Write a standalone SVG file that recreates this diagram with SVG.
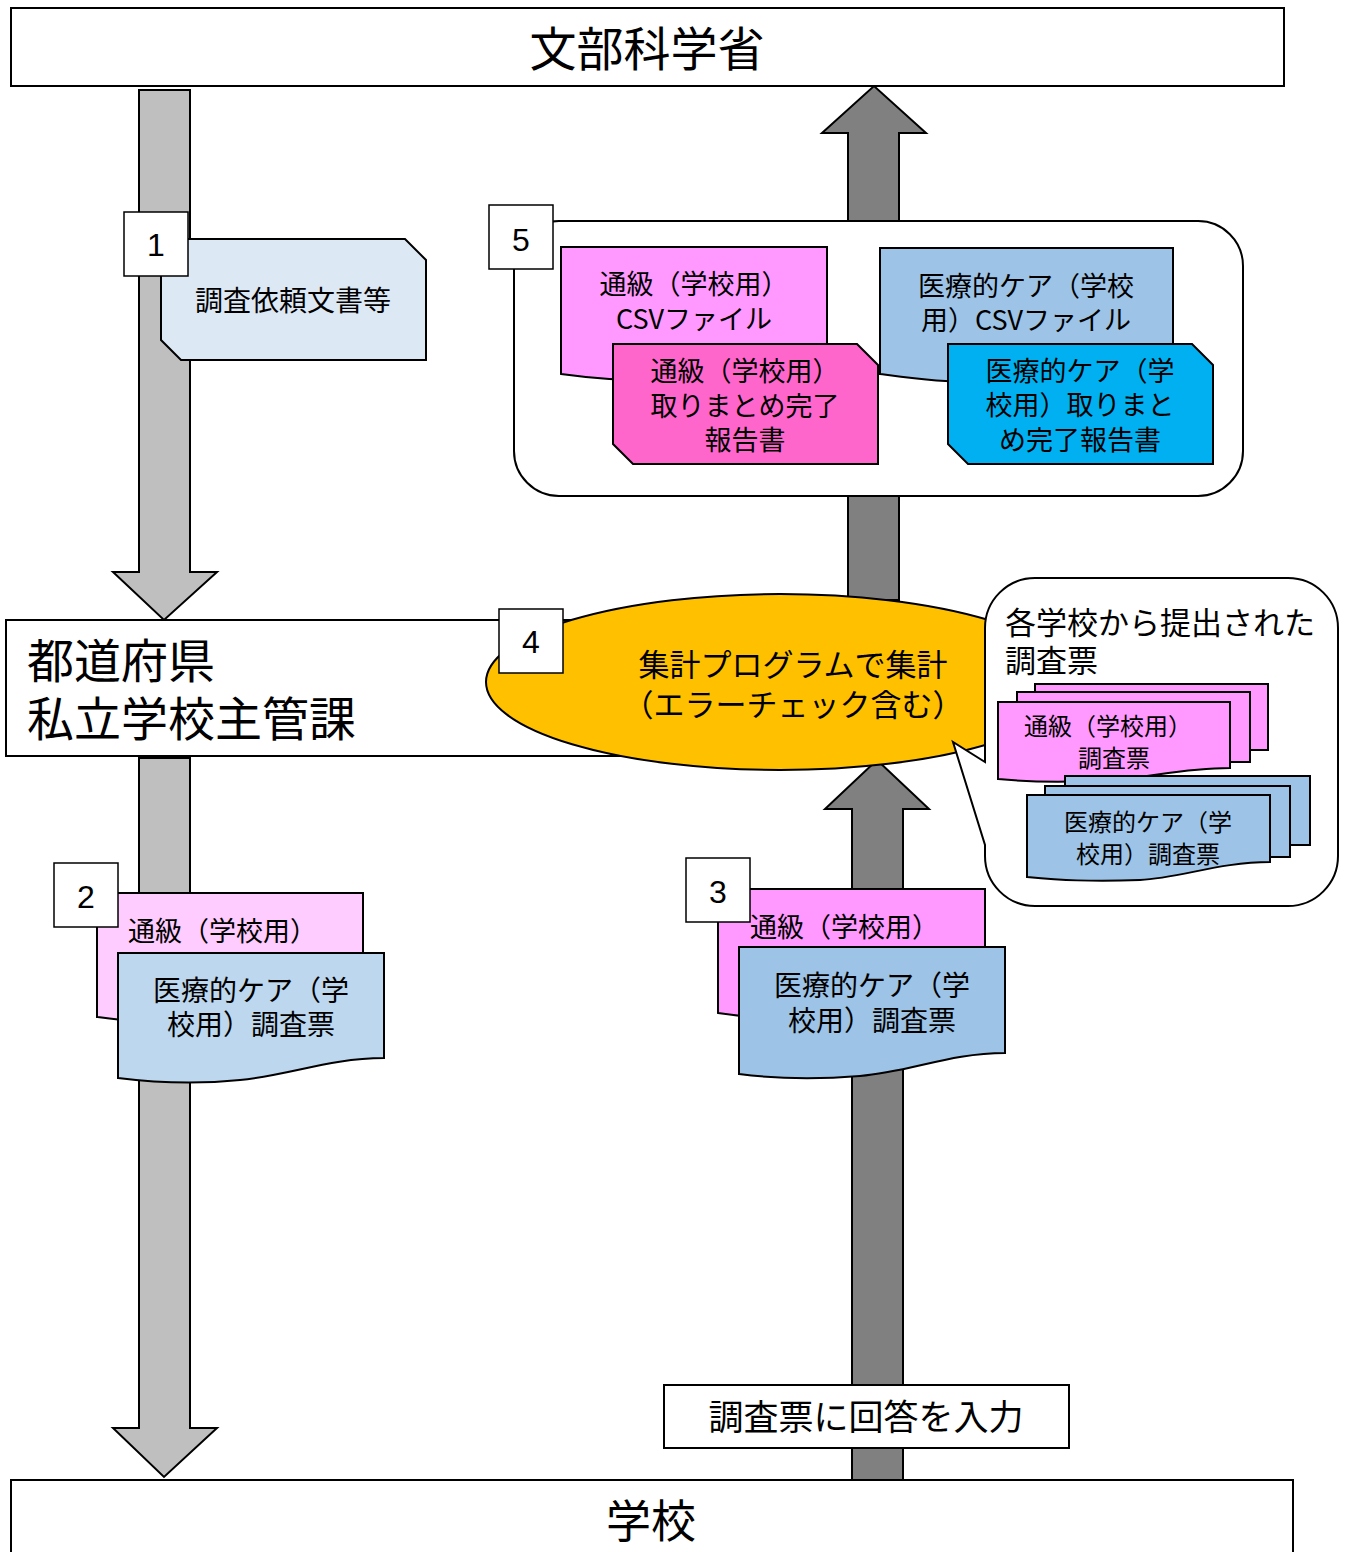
<svg xmlns="http://www.w3.org/2000/svg" width="1345" height="1552" viewBox="0 0 1345 1552">
<style>
text{font-family:"Noto Sans CJK JP","Noto Sans",sans-serif;fill:#000}
.num{font-family:"Liberation Sans",Arial,sans-serif;font-size:32px;text-anchor:middle}
.box{fill:#fff;stroke:#000;stroke-width:2}
.sq{fill:#fff;stroke:#000;stroke-width:1.5}
.ln{stroke:#000;stroke-width:2;stroke-linejoin:miter}
.c{text-anchor:middle}
</style>
<rect width="1345" height="1552" fill="#fff"/>
<g id="connectors">
<path class="ln" fill="#bfbfbf" d="M139,90 H190 V572 H217 L164,620 L113,572 H139 Z"/>
<path class="ln" fill="#bfbfbf" d="M139,758 H190 V1428 H217 L164,1477 L113,1428 H139 Z"/>
<path class="ln" fill="#808080" d="M848,600 V133 H822 L874,86 L926,133 H899 V600 Z"/>
<path class="ln" fill="#808080" d="M852,1480 V809 H825 L877,760 L929,809 H903 V1480 Z"/>
</g>
<g id="mext">
<rect class="box" x="11" y="8" width="1273" height="78"/>
<text x="647" y="66" font-size="47" class="c">文部科学省</text>
</g>
<g id="school">
<rect class="box" x="11" y="1480" width="1282" height="90"/>
<text x="651" y="1538" font-size="45" class="c">学校</text>
</g>
<g id="input">
<rect class="box" x="664" y="1385" width="405" height="63"/>
<text x="866" y="1430" font-size="35" class="c">調査票に回答を入力</text>
</g>
<g id="pref">
<rect class="box" x="6" y="620" width="694" height="136"/>
<text font-size="47"><tspan x="27" y="678">都道府県</tspan><tspan x="27" y="736">私立学校主管課</tspan></text>
</g>
<g id="step1">
<path class="ln" fill="#dde8f5" d="M161,239 H405 L426,260 V360 H181 L161,340 Z"/>
<rect class="sq" x="124" y="212" width="64" height="64"/>
<text class="num" x="156" y="256">1</text>
<text x="293" y="311" font-size="28" class="c">調査依頼文書等</text>
</g>
<g id="step5">
<rect class="box" x="514" y="221" width="729" height="275" rx="45"/>
<path class="ln" fill="#ff99ff" d="M561,247 H827 V360 C760,360 720,378 680,380 C630,382 590,378 561,374 Z"/>
<text font-size="27" class="c"><tspan x="694" y="294">通級（学校用）</tspan><tspan x="694" y="329">CSVファイル</tspan></text>
<path class="ln" fill="#ff66cc" d="M613,344 H857 L878,365 V464 H633 L613,444 Z"/>
<text font-size="27" class="c"><tspan x="745" y="381">通級（学校用）</tspan><tspan x="745" y="416">取りまとめ完了</tspan><tspan x="745" y="450">報告書</tspan></text>
<path class="ln" fill="#9dc3e6" d="M880,248 H1173 V360 C1100,360 1050,380 1000,382 C950,384 910,378 880,374 Z"/>
<text font-size="27" class="c"><tspan x="1026" y="296">医療的ケア（学校</tspan><tspan x="1026" y="330">用）CSVファイル</tspan></text>
<path class="ln" fill="#00b0f0" d="M948,344 H1192 L1213,365 V464 H968 L948,444 Z"/>
<text font-size="27" class="c"><tspan x="1080" y="381">医療的ケア（学</tspan><tspan x="1080" y="415">校用）取りまと</tspan><tspan x="1080" y="450">め完了報告書</tspan></text>
<rect class="sq" x="489" y="205" width="64" height="64"/>
<text class="num" x="521" y="251">5</text>
</g>
<g id="step4">
<ellipse class="ln" fill="#ffc000" cx="780" cy="682" rx="294" ry="88"/>
<text font-size="31" class="c"><tspan x="793" y="676">集計プログラムで集計</tspan><tspan x="793" y="716">（エラーチェック含む）</tspan></text>
<rect class="sq" x="499" y="609" width="64" height="64"/>
<text class="num" x="531" y="653">4</text>
</g>
<g id="callout">
<path class="ln" fill="#fff" d="M1035,578 H1288 A50,50 0 0 1 1338,628 V856 A50,50 0 0 1 1288,906 H1035 A50,50 0 0 1 985,856 V845 L953,742 L985,762 V628 A50,50 0 0 1 1035,578 Z"/>
<text font-size="31"><tspan x="1005" y="634">各学校から提出された</tspan><tspan x="1005" y="672">調査票</tspan></text>
<rect class="ln" fill="#ff99ff" x="1035" y="684" width="233" height="66"/>
<rect class="ln" fill="#ff99ff" x="1017" y="692" width="233" height="70"/>
<path class="ln" fill="#ff99ff" d="M998,702 H1230 V768 C1180,768 1150,778 1110,780 C1060,783 1030,782 998,779 Z"/>
<text font-size="24" class="c"><tspan x="1108" y="735">通級（学校用）</tspan><tspan x="1114" y="767">調査票</tspan></text>
<rect class="ln" fill="#9dc3e6" x="1065" y="776" width="245" height="69"/>
<rect class="ln" fill="#9dc3e6" x="1045" y="786" width="245" height="71"/>
<path class="ln" fill="#9dc3e6" d="M1027,795 H1270 V862 C1220,862 1180,878 1140,880 C1090,882 1060,880 1027,877 Z"/>
<text font-size="24" class="c"><tspan x="1148" y="831">医療的ケア（学</tspan><tspan x="1148" y="863">校用）調査票</tspan></text>
</g>
<g id="step2">
<path class="ln" fill="#ffccff" d="M97,893 H363 V1005 C300,1005 260,1020 200,1022 C150,1024 120,1020 97,1017 Z"/>
<text x="128" y="941" font-size="27">通級（学校用）</text>
<path class="ln" fill="#bdd7ee" d="M118,953 H384 V1058 C330,1058 290,1075 240,1080 C190,1085 150,1082 118,1078 Z"/>
<text font-size="28" class="c"><tspan x="251" y="1001">医療的ケア（学</tspan><tspan x="251" y="1035">校用）調査票</tspan></text>
<rect class="sq" x="54" y="863" width="64" height="64"/>
<text class="num" x="86" y="908">2</text>
</g>
<g id="step3">
<path class="ln" fill="#ff99ff" d="M718,889 H985 V1000 C920,1000 880,1015 820,1018 C770,1020 740,1016 718,1013 Z"/>
<text x="750" y="937" font-size="27">通級（学校用）</text>
<path class="ln" fill="#9dc3e6" d="M739,947 H1005 V1053 C950,1053 910,1072 860,1076 C810,1080 770,1078 739,1074 Z"/>
<text font-size="28" class="c"><tspan x="872" y="996">医療的ケア（学</tspan><tspan x="872" y="1031">校用）調査票</tspan></text>
<rect class="sq" x="686" y="858" width="64" height="64"/>
<text class="num" x="718" y="903">3</text>
</g>
</svg>
